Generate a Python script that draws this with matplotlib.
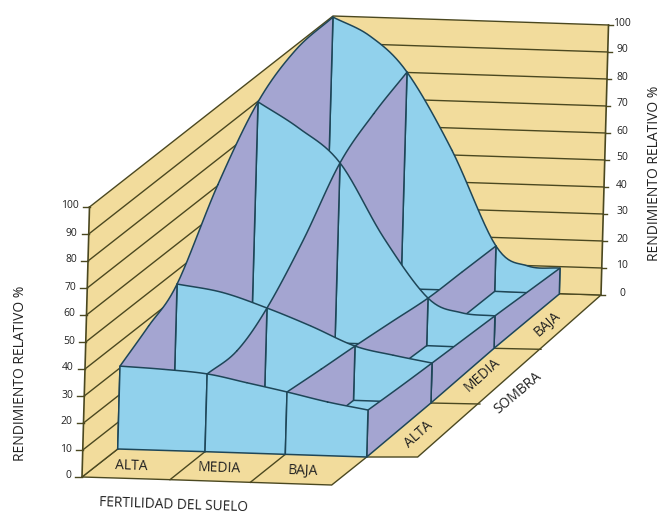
import numpy as np
import matplotlib
matplotlib.use('Agg')
from matplotlib import pyplot as plt
from matplotlib.patches import Polygon

plt.rcParams['font.family'] = ['Open Sans', 'DejaVu Sans']

# rendimiento relativo leido cada medio paso
# cortinas azules: de fertilidad ALTA a BAJA
sombra_alta = [30.7, 30.0, 28.8, 26.0, 23.1, 19.9, 17.4]
sombra_media = [41.1, 38.5, 33.2, 27.0, 20.1, 17.2, 14.8]
sombra_media_baja = [88.3, 79.0, 66.7, 39.4, 17.6, 12.7, 12.0]
sombra_baja = [99.6, 93.0, 80.2, 51.9, 16.8, 9.9, 9.6]
# cortinas violetas: de sombra ALTA a BAJA
fert_alta = [30.7, 35.5, 41.1, 67.7, 88.3, 97.5, 99.6]
fert_media = [28.8, 27.3, 33.2, 48.3, 66.7, 74.8, 80.2]
fert_media_baja = [23.1, 21.5, 20.1, 18.9, 17.6, 17.2, 16.8]
fert_baja = [17.4, 16.0, 14.8, 13.4, 12.0, 10.8, 9.6]

ticks = [0, 10, 20, 30, 40, 50, 60, 70, 80, 90, 100]
fert_labels = ['ALTA', 'MEDIA', 'BAJA']
sombra_labels = ['ALTA', 'MEDIA', 'BAJA']

BLUE = '#91D1EC'
VIOLET = '#A4A5D1'
TAN = '#F2DC9C'
EDGE = '#1E4658'
GRID = '#4B4820'
TXT = '#222222'

# proyeccion oblicua: pie de cada nodo en la hoja
zv = np.array([0.075, -2.7])
base_x = np.array([[117.7, 205, 285.3, 366.7],
                   [174, 264.5, 353.5, 430.9],
                   [251.4, 335, 426.7, 494],
                   [325.5, 401, 494.7, 559.3]])
base_y = np.array([[449 + 2.67 * i for i in range(4)],
                   [395 + 2.67 * i for i in range(4)],
                   [340.3 + 2.67 * i for i in range(4)],
                   [286 + 2.67 * i for i in range(4)]])


def base(i, j):
    return np.array([base_x[j, i], base_y[j, i]])


def smooth(pts, n=12):
    # catmull-rom por tramos
    pts = np.array(pts)
    p = np.vstack([2 * pts[0] - pts[1], pts, 2 * pts[-1] - pts[-2]])
    t = np.linspace(0, 1, n)[:, None]
    segs = []
    for k in range(1, len(p) - 2):
        a, b, c, d = p[k - 1], p[k], p[k + 1], p[k + 2]
        segs.append(0.5 * (2 * b + (c - a) * t + (2 * a - 5 * b + 4 * c - d) * t ** 2
                           + (3 * b - a - 3 * c + d) * t ** 3))
    # dos medios tramos por cada panel
    return [np.vstack([segs[m], segs[m + 1]]) for m in range(0, len(segs), 2)]


def s_curve(vals, j):
    pts = []
    for m, v in enumerate(vals):
        b = (base(m // 2, j) + base((m + 1) // 2, j)) / 2
        pts.append(b + v * zv)
    return smooth(pts)


def f_curve(vals, i):
    pts = []
    for m, v in enumerate(vals):
        b = (base(i, m // 2) + base(i, (m + 1) // 2)) / 2
        pts.append(b + v * zv)
    return smooth(pts)


s_tops = [s_curve(v, j) for j, v in enumerate([sombra_alta, sombra_media, sombra_media_baja, sombra_baja])]
f_tops = [f_curve(v, i) for i, v in enumerate([fert_alta, fert_media, fert_media_baja, fert_baja])]

fig = plt.figure(figsize=(6.64, 5.15), dpi=100)
ax = fig.add_axes([0, 0, 1, 1])
ax.set_xlim(0, 664)
ax.set_ylim(515, 0)
ax.axis('off')

O = np.array([82.0, 477.0])
B = np.array([325.5, 286.0])
R = np.array([601.0, 295.0])
front_off = np.array([-35.0, 28.0])
right_off = [np.array([51.0, 0]), np.array([49.0, 1]), np.array([47.0, 1]), np.array([42.0, 1])]

# paredes y suelo
floor = [O, base(1, 0) + front_off, base(2, 0) + front_off, base(3, 0) + front_off, base(3, 0),
         base(3, 0) + right_off[0], R, B]
ax.add_patch(Polygon(floor, fc=TAN, ec=GRID, lw=1, zorder=1))
ax.add_patch(Polygon([O, B, B + 100 * zv, O + 100 * zv], fc=TAN, ec='none', zorder=1))
ax.add_patch(Polygon([B, R, R + 100 * zv, B + 100 * zv], fc=TAN, ec='none', zorder=1))

for v in ticks:
    ax.plot(*zip(O + v * zv, B + v * zv, R + v * zv), color=GRID, lw=1, zorder=2)
    a = O + v * zv
    ax.plot([a[0] - 7, a[0]], [a[1], a[1]], color=GRID, lw=1, zorder=2)
    ax.text(a[0] - 11, a[1] - 1, str(v), ha='right', va='center', fontsize=7.5, color=TXT)
    c = R + v * zv
    ax.plot([c[0], c[0] + 4], [c[1], c[1]], color=GRID, lw=1, zorder=2)
    ax.text(622, c[1] - 2, str(v), ha='center', va='center', fontsize=7.5, color=TXT)
ax.plot(*zip(O, O + 100 * zv), color=GRID, lw=1.2, zorder=2)
ax.plot(*zip(R, R + 100 * zv), color=GRID, lw=1.2, zorder=2)

# divisiones del suelo
for i in (1, 2):
    ax.plot(*zip(base(i, 0), base(i, 0) + front_off), color=GRID, lw=1, zorder=2)
for j in (1, 2):
    ax.plot(*zip(base(3, j), base(3, j) + right_off[j]), color=GRID, lw=1, zorder=2)

ax.add_patch(Polygon([base(0, 0), base(3, 0), base(3, 3), base(0, 3)], fc=BLUE, ec='none', zorder=3))


def panel(curve, b0, b1, color):
    ax.add_patch(Polygon(np.vstack([curve, b1, b0]), fc=color, ec=EDGE, lw=1.1,
                         joinstyle='round', zorder=4))


# de atras hacia delante
for j in (2, 1, 0):
    for i in (0, 1, 2):
        panel(s_tops[j + 1][i], base(i, j + 1), base(i + 1, j + 1), BLUE)
        panel(f_tops[i][j], base(i, j), base(i, j + 1), VIOLET)
    panel(f_tops[3][j], base(3, j), base(3, j + 1), VIOLET)
for i in (0, 1, 2):
    panel(s_tops[0][i], base(i, 0), base(i + 1, 0), BLUE)

# textos
for lab, x, y in zip(fert_labels, [131, 219, 303], [466, 468, 471]):
    ax.text(x, y, lab, ha='center', va='center', rotation=-2, fontsize=10, color=TXT)
for lab, x, y in zip(sombra_labels, [419, 482, 547], [435, 375, 324]):
    ax.text(x, y, lab, ha='center', va='center', rotation=42, fontsize=10, color=TXT)
ax.text(174, 505, 'FERTILIDAD DEL SUELO', ha='center', va='center', rotation=-2, fontsize=9.8, color=TXT)
ax.text(518, 393, 'SOMBRA', ha='center', va='center', rotation=40, fontsize=10, color=TXT)
ax.text(21, 373, 'RENDIMIENTO RELATIVO %', ha='center', va='center', rotation=90, fontsize=10, color=TXT)
ax.text(655, 173, 'RENDIMIENTO RELATIVO %', ha='center', va='center', rotation=90, fontsize=10, color=TXT)

fig.savefig('out.png', dpi=100)
